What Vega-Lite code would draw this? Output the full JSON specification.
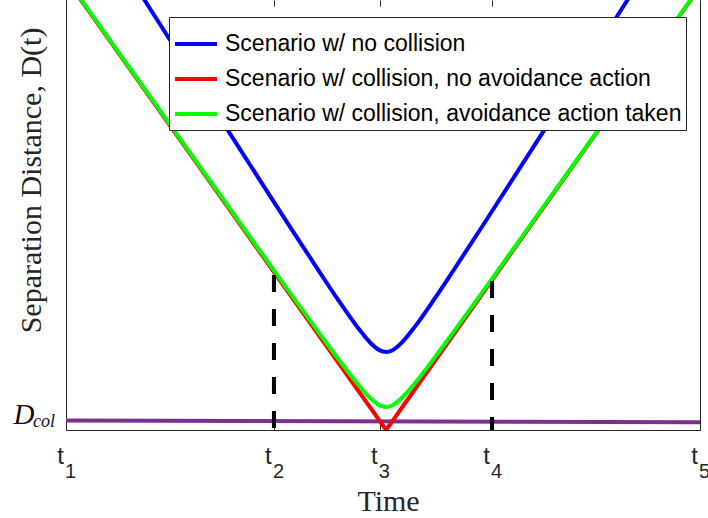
{
  "$schema": "https://vega.github.io/schema/vega-lite/v6.json",
  "width": 634,
  "height": 430,
  "autosize": {"type": "none"},
  "padding": {"left": 66, "top": 0, "right": 8, "bottom": 88},
  "background": "white",
  "config": {"view": {"stroke": null}, "axis": {"grid": false}},
  "datasets": {
    "curves": [
      {"series": "Scenario w/ collision, no avoidance action", "t": 0, "D": 451},
      {"series": "Scenario w/ collision, no avoidance action", "t": 3.28, "D": 158},
      {"series": "Scenario w/ collision, no avoidance action", "t": 5.05, "D": 0},
      {"series": "Scenario w/ collision, no avoidance action", "t": 6.72, "D": 150},
      {"series": "Scenario w/ collision, no avoidance action", "t": 10, "D": 443},
      {"series": "Scenario w/ collision, avoidance action taken", "t": 0, "D": 451.8},
      {"series": "Scenario w/ collision, avoidance action taken", "t": 0.5, "D": 407.1},
      {"series": "Scenario w/ collision, avoidance action taken", "t": 1, "D": 362.5},
      {"series": "Scenario w/ collision, avoidance action taken", "t": 2, "D": 273.4},
      {"series": "Scenario w/ collision, avoidance action taken", "t": 3, "D": 184.4},
      {"series": "Scenario w/ collision, avoidance action taken", "t": 3.5, "D": 140.2},
      {"series": "Scenario w/ collision, avoidance action taken", "t": 4, "D": 96.4},
      {"series": "Scenario w/ collision, avoidance action taken", "t": 4.3, "D": 70.6},
      {"series": "Scenario w/ collision, avoidance action taken", "t": 4.6, "D": 46.1},
      {"series": "Scenario w/ collision, avoidance action taken", "t": 4.8, "D": 31.9},
      {"series": "Scenario w/ collision, avoidance action taken", "t": 4.95, "D": 24.6},
      {"series": "Scenario w/ collision, avoidance action taken", "t": 5.05, "D": 23},
      {"series": "Scenario w/ collision, avoidance action taken", "t": 5.15, "D": 24.8},
      {"series": "Scenario w/ collision, avoidance action taken", "t": 5.3, "D": 32.3},
      {"series": "Scenario w/ collision, avoidance action taken", "t": 5.5, "D": 46.5},
      {"series": "Scenario w/ collision, avoidance action taken", "t": 5.8, "D": 71.1},
      {"series": "Scenario w/ collision, avoidance action taken", "t": 6.1, "D": 96.9},
      {"series": "Scenario w/ collision, avoidance action taken", "t": 6.6, "D": 140.7},
      {"series": "Scenario w/ collision, avoidance action taken", "t": 7, "D": 176.1},
      {"series": "Scenario w/ collision, avoidance action taken", "t": 8, "D": 265.0},
      {"series": "Scenario w/ collision, avoidance action taken", "t": 9, "D": 354.1},
      {"series": "Scenario w/ collision, avoidance action taken", "t": 10, "D": 443.4},
      {"series": "Scenario w/ no collision", "t": 0, "D": 552.8},
      {"series": "Scenario w/ no collision", "t": 1, "D": 453.7},
      {"series": "Scenario w/ no collision", "t": 1.5, "D": 404.0},
      {"series": "Scenario w/ no collision", "t": 2, "D": 354.5},
      {"series": "Scenario w/ no collision", "t": 2.5, "D": 305.0},
      {"series": "Scenario w/ no collision", "t": 3, "D": 255.6},
      {"series": "Scenario w/ no collision", "t": 3.5, "D": 206.4},
      {"series": "Scenario w/ no collision", "t": 4, "D": 157.9},
      {"series": "Scenario w/ no collision", "t": 4.3, "D": 129.4},
      {"series": "Scenario w/ no collision", "t": 4.6, "D": 102.6},
      {"series": "Scenario w/ no collision", "t": 4.8, "D": 87.3},
      {"series": "Scenario w/ no collision", "t": 4.95, "D": 79.6},
      {"series": "Scenario w/ no collision", "t": 5.05, "D": 78},
      {"series": "Scenario w/ no collision", "t": 5.15, "D": 79.8},
      {"series": "Scenario w/ no collision", "t": 5.3, "D": 87.7},
      {"series": "Scenario w/ no collision", "t": 5.5, "D": 103.1},
      {"series": "Scenario w/ no collision", "t": 5.8, "D": 130.0},
      {"series": "Scenario w/ no collision", "t": 6.1, "D": 158.5},
      {"series": "Scenario w/ no collision", "t": 6.6, "D": 207.0},
      {"series": "Scenario w/ no collision", "t": 7, "D": 246.3},
      {"series": "Scenario w/ no collision", "t": 7.5, "D": 295.7},
      {"series": "Scenario w/ no collision", "t": 8, "D": 345.1},
      {"series": "Scenario w/ no collision", "t": 9, "D": 444.3},
      {"series": "Scenario w/ no collision", "t": 10, "D": 543.6}
    ],
    "dcol": [
      {"t": 0, "D": 9.5},
      {"t": 10, "D": 7.8}
    ],
    "markers": [
      {"t": 3.28, "top": 155, "bot": 0},
      {"t": 6.72, "top": 149, "bot": 0}
    ],
    "sublabel": [
      {"t": 0, "D": 8.7, "text": "col"}
    ]
  },
  "resolve": {"axis": {"x": "independent", "y": "independent"}},
  "layer": [
    {
      "data": {"name": "dcol"},
      "mark": {"type": "line", "stroke": "#7E2F8E", "strokeWidth": 4, "clip": true},
      "encoding": {
        "x": {"field": "t", "type": "quantitative", "scale": {"domain": [0, 10], "nice": false, "zero": false},
          "axis": {"orient": "bottom", "values": [0, 3.28, 4.95, 6.72, 10], "labelExpr": "'t'",
            "tickSize": -6, "tickColor": "#262626", "tickWidth": 1, "domainColor": "#262626", "domainWidth": 1,
            "labelFont": "Liberation Sans", "labelFontSize": 24, "labelColor": "#262626", "labelBaseline": "alphabetic",
            "labelPadding": 39, "labelOffset": -6, "labelFlush": false, "labelAlign": "center",
            "title": "Time", "titleFont": "Liberation Serif", "titleFontSize": 30, "titleFontWeight": "normal",
            "titleColor": "#262626", "titleX": 322, "titleY": 80, "titleBaseline": "alphabetic", "titleAlign": "center"}},
        "y": {"field": "D", "type": "quantitative", "scale": {"domain": [0, 430], "nice": false, "zero": false},
          "axis": {"orient": "left", "values": [8.7], "labelExpr": "'D'", "ticks": false,
            "domainColor": "#262626", "domainWidth": 1,
            "labelFont": "Liberation Serif", "labelFontStyle": "italic", "labelFontSize": 29, "labelColor": "#111111",
            "labelAlign": "right", "labelBaseline": "alphabetic", "labelPadding": 32, "labelOffset": 2,
            "title": "Separation Distance, D(t)", "titleFont": "Liberation Serif", "titleFontSize": 30,
            "titleFontWeight": "normal", "titleColor": "#262626", "titleX": -26, "titleY": 180,
            "titleAngle": -90, "titleBaseline": "alphabetic", "titleAlign": "center"}}
      }
    },
    {
      "data": {"name": "curves"},
      "transform": [{"filter": "datum.series === 'Scenario w/ collision, no avoidance action'"}],
      "mark": {"type": "line", "strokeWidth": 4, "clip": true},
      "encoding": {
        "x": {"field": "t", "type": "quantitative",
          "axis": {"orient": "bottom", "values": [0, 3.28, 4.95, 6.72, 10],
            "labelExpr": "datum.value < 1 ? '1' : datum.value < 4 ? '2' : datum.value < 6 ? '3' : datum.value < 8 ? '4' : '5'",
            "ticks": false, "domain": false, "labelFont": "Liberation Sans", "labelFontSize": 20, "labelColor": "#262626",
            "labelBaseline": "alphabetic", "labelPadding": 47, "labelOffset": 4, "labelFlush": false, "labelAlign": "center",
            "title": null}},
        "y": {"field": "D", "type": "quantitative",
          "axis": {"orient": "right", "ticks": false, "labels": false, "domainColor": "#262626", "domainWidth": 1, "title": null}},
        "color": {"field": "series", "type": "nominal",
          "scale": {"domain": ["Scenario w/ no collision", "Scenario w/ collision, no avoidance action", "Scenario w/ collision, avoidance action taken"],
            "range": ["#0000FF", "#FF0000", "#00FF00"]},
          "legend": {"orient": "none", "legendX": 103, "legendY": 17, "title": null,
            "fillColor": "white", "strokeColor": "#262626", "padding": 4, "rowPadding": -5,
            "labelFont": "Liberation Sans", "labelFontSize": 23, "labelColor": "#000000", "labelLimit": 0,
            "labelOffset": 6, "symbolType": "stroke", "symbolStrokeWidth": 4, "symbolSize": 1764}}
      }
    },
    {
      "data": {"name": "curves"},
      "transform": [{"filter": "datum.series === 'Scenario w/ collision, avoidance action taken'"}],
      "mark": {"type": "line", "strokeWidth": 4, "clip": true, "interpolate": "monotone"},
      "encoding": {
        "x": {"field": "t", "type": "quantitative",
          "axis": {"orient": "top", "values": [0, 3.28, 4.95, 6.72, 10], "labels": false, "domain": false,
            "tickSize": -6, "tickColor": "#262626", "tickWidth": 1, "title": null}},
        "y": {"field": "D", "type": "quantitative", "axis": null},
        "color": {"field": "series", "type": "nominal"}
      }
    },
    {
      "data": {"name": "curves"},
      "transform": [{"filter": "datum.series === 'Scenario w/ no collision'"}],
      "mark": {"type": "line", "strokeWidth": 4, "clip": true, "interpolate": "monotone"},
      "encoding": {
        "x": {"field": "t", "type": "quantitative", "axis": null},
        "y": {"field": "D", "type": "quantitative", "axis": null},
        "color": {"field": "series", "type": "nominal"}
      }
    },
    {
      "data": {"name": "markers"},
      "mark": {"type": "rule", "color": "#000000", "strokeWidth": 4, "strokeDash": [17, 17], "clip": true},
      "encoding": {
        "x": {"field": "t", "type": "quantitative", "axis": null},
        "y": {"field": "top", "type": "quantitative", "axis": null},
        "y2": {"field": "bot"}
      }
    },
    {
      "data": {"name": "sublabel"},
      "mark": {"type": "text", "align": "right", "baseline": "alphabetic", "dx": -11, "dy": 6,
        "font": "Liberation Serif", "fontStyle": "italic", "fontSize": 18, "color": "#111111"},
      "encoding": {
        "x": {"field": "t", "type": "quantitative", "axis": null},
        "y": {"field": "D", "type": "quantitative", "axis": null},
        "text": {"field": "text"}
      }
    }
  ]
}
